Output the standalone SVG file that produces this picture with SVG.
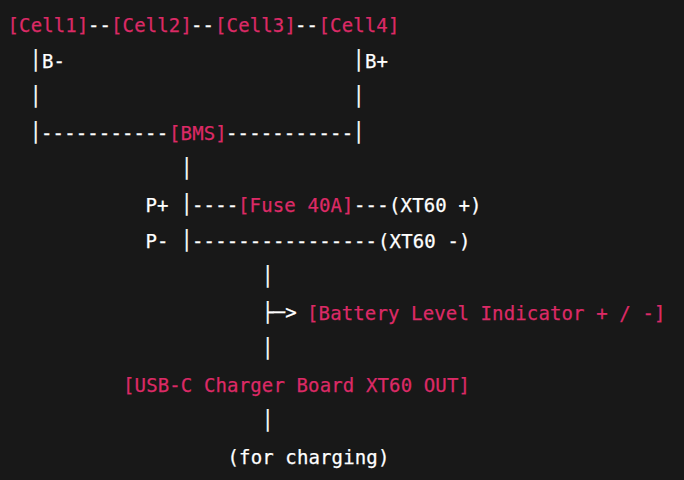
<svg xmlns="http://www.w3.org/2000/svg" width="684" height="480" viewBox="0 0 684 480">
<style>
text{font-family:"DejaVu Sans Mono","Liberation Mono",monospace;font-size:19px;letter-spacing:.13px;white-space:pre;stroke-width:.25px}
.n{fill:#dc2a66;stroke:#dc2a66}
.w{fill:#fff;stroke:#fff}
.c{fill:#fff;stroke:#fff}
</style>
<rect width="684" height="480" fill="#181818"/>
<g id="connectors">
<text class="c" x="88" y="32">--</text>
<text class="c" x="191" y="32">--</text>
<text class="c" x="295" y="32">--</text>
<text class="c" x="30" y="67">│</text>
<text class="c" x="353" y="67">│</text>
<text class="c" x="30" y="103">│</text>
<text class="c" x="353" y="103">│</text>
<text class="c" x="30" y="139">│</text>
<text class="c" x="41" y="140">-----------</text>
<text class="c" x="226" y="140">-----------</text>
<text class="c" x="353" y="139">│</text>
<text class="c" x="181" y="175">│</text>
<text class="c" x="181" y="211">│</text>
<text class="c" x="192" y="212">----</text>
<text class="c" x="354" y="212">---</text>
<text class="c" x="181" y="247">│</text>
<text class="c" x="192" y="248">----------------</text>
<text class="c" x="262" y="283">│</text>
<text class="c" x="262" y="319">├─&gt;</text>
<text class="c" x="262" y="355">│</text>
<text class="c" x="262" y="427">│</text>
</g>
<g id="cell1"><text class="n" x="7.5" y="32">[Cell1]</text></g>
<g id="cell2"><text class="n" x="111" y="32">[Cell2]</text></g>
<g id="cell3"><text class="n" x="215" y="32">[Cell3]</text></g>
<g id="cell4"><text class="n" x="318.5" y="32">[Cell4]</text></g>
<g id="bminus"><text class="w" x="42" y="68">B-</text></g>
<g id="bplus"><text class="w" x="365" y="68">B+</text></g>
<g id="bms"><text class="n" x="169" y="140">[BMS]</text></g>
<g id="pplus"><text class="w" x="145.5" y="212">P+</text></g>
<g id="pminus"><text class="w" x="145.5" y="248">P-</text></g>
<g id="fuse"><text class="n" x="238" y="212">[Fuse 40A]</text></g>
<g id="xt60p"><text class="w" x="389" y="212">(XT60 +)</text></g>
<g id="xt60m"><text class="w" x="378" y="248">(XT60 -)</text></g>
<g id="indicator"><text class="n" x="307" y="320">[Battery Level Indicator + / -]</text></g>
<g id="charger"><text class="n" x="123" y="392">[USB-C Charger Board XT60 OUT]</text></g>
<g id="charging"><text class="w" x="227.5" y="464">(for charging)</text></g>
</svg>
